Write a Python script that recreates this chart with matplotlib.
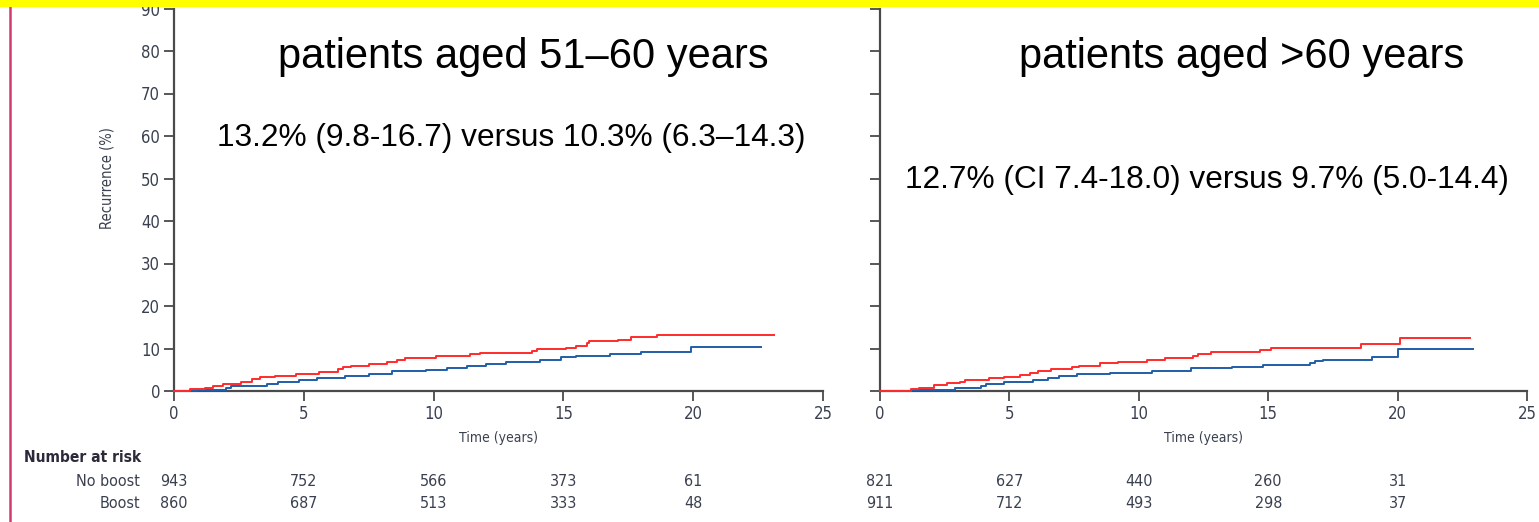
import matplotlib
matplotlib.use("Agg")
import matplotlib.pyplot as plt
from matplotlib.patches import Rectangle
from matplotlib.lines import Line2D
from matplotlib.transforms import blended_transform_factory

# cumulative recurrence (%), step functions
left_red_t = [0, 0.6, 1.2, 1.5, 1.9, 2.6, 3.0, 3.3, 3.9, 4.7, 5.6, 6.3, 6.5, 6.8, 7.5, 8.2, 8.6, 8.9,
              10.1, 11.4, 11.8, 13.8, 14.0, 15.1, 15.5, 15.9, 16.0, 17.1, 17.6, 18.6, 23.1]
left_red_v = [0, 0.4, 0.8, 1.2, 1.7, 2.2, 2.8, 3.2, 3.6, 4.0, 4.5, 5.2, 5.7, 6.0, 6.4, 6.8, 7.3, 7.8,
              8.2, 8.6, 9.0, 9.3, 9.8, 10.2, 10.6, 11.2, 11.8, 12.1, 12.6, 13.1, 13.1]
left_blue_t = [0, 0.9, 2.0, 2.2, 3.6, 4.0, 4.8, 5.5, 6.6, 7.5, 8.4, 9.7, 10.5, 11.3, 12.0, 12.8,
               14.1, 14.9, 15.5, 16.8, 18.0, 19.9, 22.6]
left_blue_v = [0, 0.2, 0.6, 1.2, 1.7, 2.2, 2.6, 3.1, 3.6, 4.1, 4.6, 5.0, 5.5, 6.0, 6.4, 6.9,
               7.4, 7.9, 8.3, 8.8, 9.2, 10.3, 10.3]

right_red_t = [0, 1.2, 1.5, 2.1, 2.6, 3.1, 3.3, 4.2, 4.8, 5.4, 5.8, 6.1, 6.6, 7.4, 7.7, 8.5, 9.2,
               10.3, 11.0, 12.1, 12.3, 12.8, 14.7, 15.1, 18.6, 20.1, 22.8]
right_red_v = [0, 0.5, 0.8, 1.3, 1.8, 2.2, 2.6, 3.0, 3.4, 3.8, 4.3, 4.8, 5.2, 5.6, 6.0, 6.5, 6.9,
               7.3, 7.8, 8.3, 8.8, 9.2, 9.6, 10.1, 11.0, 12.4, 12.4]
right_blue_t = [0, 1.2, 2.9, 3.9, 4.1, 4.8, 5.9, 6.5, 6.9, 7.6, 8.9, 10.5, 12.0, 13.6, 14.8,
                16.6, 16.8, 17.1, 19.0, 20.0, 22.9]
right_blue_v = [0, 0.3, 0.8, 1.2, 1.7, 2.1, 2.6, 3.0, 3.5, 3.9, 4.3, 4.8, 5.3, 5.7, 6.1,
                6.5, 7.0, 7.4, 7.9, 9.8, 9.8]

risk_times = [0, 5, 10, 15, 20]
left_no_boost = [943, 752, 566, 373, 61]
left_boost = [860, 687, 513, 333, 48]
right_no_boost = [821, 627, 440, 260, 31]
right_boost = [911, 712, 493, 298, 37]

titles = ["patients aged 51\u201360 years", "patients aged >60 years"]
subtitles = ["13.2% (9.8-16.7) versus 10.3% (6.3\u201314.3)",
             "12.7% (CI 7.4-18.0) versus 9.7% (5.0-14.4)"]

W, H = 1539, 522
RED = "#ff2b2b"
BLUE = "#1f5ea8"
AXC = "#4a4a4a"
TXT = "#3a4050"
SMALL = ["DejaVu Sans"]
BIG = ["Liberation Sans", "DejaVu Sans"]

fig = plt.figure(figsize=(W / 100, H / 100), dpi=100)
fig.patch.set_facecolor("white")


def px(x, y):
    return x / W, 1 - y / H


def make_axes(x0, x1):
    y0, y1 = 391, 8.5
    ax = fig.add_axes([x0 / W, 1 - y0 / H, (x1 - x0) / W, (y0 - y1) / H])
    ax.set_xlim(0, 25)
    ax.set_ylim(0, 90)
    ax.set_xticks(range(0, 26, 5))
    ax.set_yticks(range(0, 91, 10))
    for s in ["top", "right"]:
        ax.spines[s].set_visible(False)
    for s in ["left", "bottom"]:
        ax.spines[s].set_color(AXC)
        ax.spines[s].set_linewidth(1.6)
    ax.tick_params(colors=AXC, width=1.3, length=7, pad=3, labelcolor=TXT, labelsize=12)
    for lab in ax.get_xticklabels() + ax.get_yticklabels():
        lab.set_family(SMALL)
        lab.set_stretch("condensed")
    ax.set_xlabel("Time (years)", fontsize=10, color=TXT, family=SMALL, stretch="condensed",
                  labelpad=6)
    return ax


axl = make_axes(174, 823)
axr = make_axes(880, 1527)
axr.tick_params(labelleft=False)
axl.set_ylabel("Recurrence (%)", fontsize=10.5, color=TXT, family=SMALL, stretch="condensed")
axl.yaxis.set_label_coords((115 - 174) / 649, (391 - 178) / 382.5)

for ax, rt, rv, bt, bv in [(axl, left_red_t, left_red_v, left_blue_t, left_blue_v),
                           (axr, right_red_t, right_red_v, right_blue_t, right_blue_v)]:
    ax.step(bt, bv, where="post", color=BLUE, lw=1.4, zorder=3, clip_on=False)
    ax.step(rt, rv, where="post", color=RED, lw=1.4, zorder=4, clip_on=False)

# titles and estimates
fig.text(*px(523, 57), titles[0], ha="center", va="center", fontsize=30, family=BIG, color="black")
fig.text(*px(1242, 57), titles[1], ha="center", va="center", fontsize=30, family=BIG, color="black")
fig.text(*px(511, 138), subtitles[0], ha="center", va="center", fontsize=22.8, family=BIG, color="black")
fig.text(*px(1207, 180), subtitles[1], ha="center", va="center", fontsize=22.8, family=BIG, color="black")

# number at risk table
fig.text(*px(24, 458), "Number at risk", ha="left", va="center", fontsize=11.2, fontweight="bold",
         family=SMALL, stretch="condensed", color="#2a2a3a")
fig.text(*px(140, 481), "No boost", ha="right", va="center", fontsize=11.5, family=SMALL,
         stretch="condensed", color=TXT)
fig.text(*px(140, 503), "Boost", ha="right", va="center", fontsize=11.5, family=SMALL,
         stretch="condensed", color=TXT)
for ax, nb, b in [(axl, left_no_boost, left_boost), (axr, right_no_boost, right_boost)]:
    tr = blended_transform_factory(ax.transData, fig.transFigure)
    for t, a, c in zip(risk_times, nb, b):
        ax.text(t, 1 - 481 / H, str(a), transform=tr, ha="center", va="center", fontsize=11.5,
                family=SMALL, stretch="condensed", color=TXT, clip_on=False)
        ax.text(t, 1 - 503 / H, str(c), transform=tr, ha="center", va="center", fontsize=11.5,
                family=SMALL, stretch="condensed", color=TXT, clip_on=False)

# frame decorations from the slide
fig.add_artist(Line2D([9.5 / W, 9.5 / W], [0, 1], transform=fig.transFigure, color="#d23a6e", lw=1.8))
fig.patches.append(Rectangle((0, 1 - 7 / H), 1, 7 / H, transform=fig.transFigure,
                             facecolor="#ffff00", edgecolor="none", zorder=20))

fig.savefig("out.png", dpi=100)
